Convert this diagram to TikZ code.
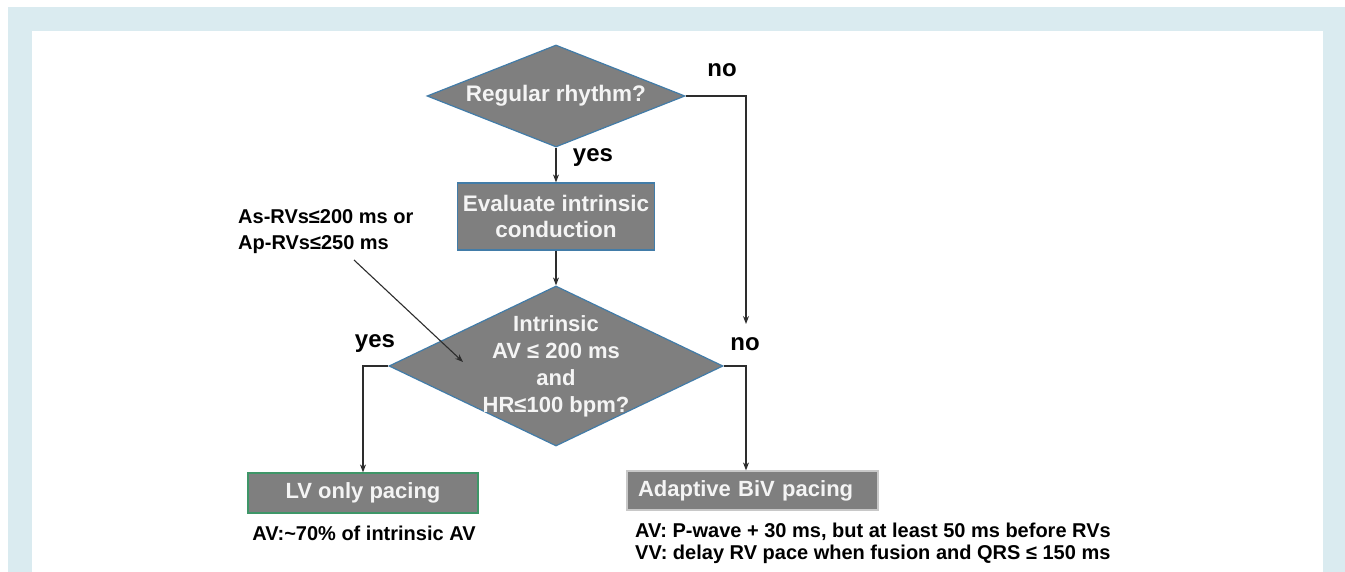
\documentclass[tikz,border=0pt]{standalone}
\usepackage{fontspec}
\setmainfont{Liberation Sans}
\usetikzlibrary{shapes.geometric,arrows.meta}
\definecolor{framebg}{RGB}{218,235,240}
\definecolor{boxgray}{RGB}{127,127,127}
\definecolor{edgeblue}{RGB}{66,124,168}
\definecolor{edgegreen}{RGB}{62,150,104}
\definecolor{edgelight}{RGB}{200,200,200}
\definecolor{boxtext}{RGB}{244,244,244}
\definecolor{linegray}{RGB}{45,45,45}
\begin{document}
\begin{tikzpicture}[x=1pt,y=-1pt,
  box/.style={rectangle,draw=edgeblue,fill=boxgray,line width=1.2pt,inner sep=0pt},
  dec/.style={diamond,draw=edgeblue,fill=boxgray,line width=1.2pt,inner sep=0pt},
  intext/.style={text=boxtext,font=\bfseries\fontsize{22.5}{26}\selectfont,align=center},
  lbl/.style={font=\bfseries\fontsize{24}{28}\selectfont,inner sep=0pt},
  note/.style={font=\bfseries\fontsize{20}{20}\selectfont,inner sep=0pt},
  conn/.style={draw=linegray,line width=1.1pt,-{Stealth[length=8pt,width=6pt]}}]
  \useasboundingbox (0,0) rectangle (1345,572);
  \fill[framebg] (8,7) rectangle (1345,572);
  \fill[white] (32,31) rectangle (1323,572);
  \node[dec,minimum width=258pt,minimum height=102pt,
    label={[intext]center:Regular rhythm?}] (rhythm) at (556,96) {};
  \node[box,intext,minimum width=197pt,minimum height=67pt] (evalc) at (556,216.5)
    {Evaluate intrinsic\\conduction};
  \node[dec,minimum width=334pt,minimum height=160pt,
    label={[intext,font=\bfseries\fontsize{22}{27}\selectfont]center:{Intrinsic\\AV ≤ 200 ms\\and\\HR≤100 bpm?}}]
    (intr) at (556,366) {};
  \node[box,draw=edgegreen,intext,font=\bfseries\fontsize{22}{26}\selectfont,
    minimum width=230pt,minimum height=40pt] (lvonly) at (363,493) {LV only pacing};
  \node[box,draw=edgelight,intext,font=\bfseries\fontsize{22}{26}\selectfont,
    minimum width=251pt,minimum height=39pt,text width=229pt,align=left] (adapt) at (752.5,490.5)
    {Adaptive BiV pacing};
  \node[lbl] (noa) at (722,70) {no};
  \node[lbl] (yesa) at (593,158) {yes};
  \node[lbl] (yesb) at (375,344) {yes};
  \node[lbl] (nob) at (745,344) {no};
  \node[note,anchor=west,align=left,font=\bfseries\fontsize{20}{26}\selectfont] (asrv) at (238,232)
    {As-RVs≤200 ms or\\Ap-RVs≤250 ms};
  \node[note] (lvnote) at (364,533) {AV:\textasciitilde70\% of intrinsic AV};
  \node[note,anchor=west,align=left,font=\bfseries\fontsize{20}{22}\selectfont] (bivnote) at (635,543)
    {AV: P-wave + 30 ms, but at least 50 ms before RVs\\VV: delay RV pace when fusion and QRS ≤ 150 ms};
  \coordinate (nocorner) at (746,96);
  \coordinate (noend) at (746,324);
  \coordinate (astail) at (354,260);
  \coordinate (ashead) at (463,362);
  \draw[conn] (rhythm.south) -- (evalc.north);
  \draw[conn] (evalc.south) -- (intr.north);
  \draw[conn] (rhythm.east) -- (nocorner) -- (noend);
  \draw[conn] (intr.west) -| (lvonly.north);
  \draw[conn] (intr.east) -| (nocorner |- adapt.north);
  \draw[conn] (astail) -- (ashead);
\end{tikzpicture}
\end{document}
